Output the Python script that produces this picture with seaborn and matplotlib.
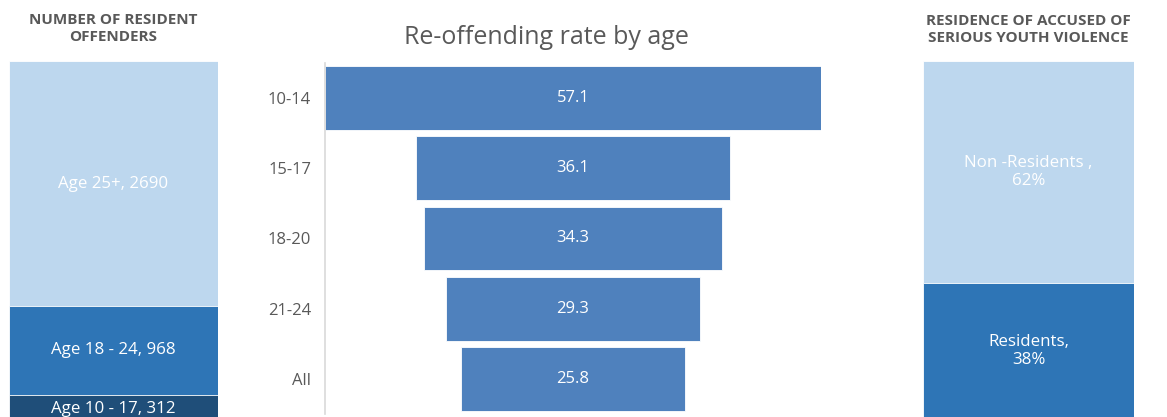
import matplotlib
matplotlib.use("Agg")
import matplotlib.pyplot as plt
import seaborn as sns
import numpy as np
import pandas as pd

# Resident offenders by age band (counts)
offender_groups = ["Age 25+", "Age 18 - 24", "Age 10 - 17"]
offender_counts = [2690, 968, 312]

# Re-offending rate by age (%)
age_bands = ["10-14", "15-17", "18-20", "21-24", "All"]
reoffend_rates = [57.1, 36.1, 34.3, 29.3, 25.8]

# Residence of accused of serious youth violence (%)
residence_groups = ["Non -Residents ,", "Residents,"]
residence_shares = [62, 38]

LIGHT = "#BDD7EE"
MID = "#2E75B6"
DARK = "#1F4E79"
FUNNEL = "#4F81BD"
GREY = "#595959"

sns.set_theme(style="white")
plt.rcParams["font.family"] = ["Open Sans", "DejaVu Sans"]

W, H = 1167, 417
fig = plt.figure(figsize=(W / 100, H / 100), dpi=100)


def px_axes(x0, y0, x1, y1):
    """Axes from pixel box (top-left origin)."""
    return fig.add_axes([x0 / W, 1 - y1 / H, (x1 - x0) / W, (y1 - y0) / H])


def stacked_column(ax, labels, values, colors, label_fmt):
    # stack from the bottom: last entry sits lowest
    order = list(range(len(values)))[::-1]
    cum = np.cumsum([values[i] for i in order])
    tops = dict(zip(order, cum))
    # draw tallest cumulative first so shorter stacks overlay it
    for i in sorted(order, key=lambda k: -tops[k]):
        df = pd.DataFrame({"g": ["x"], "v": [tops[i]]})
        sns.barplot(data=df, x="g", y="v", color=colors[i], width=1.0,
                    saturation=1, edgecolor="white", linewidth=0.6, ax=ax)
    for i in order:
        mid = tops[i] - values[i] / 2
        ax.text(0, mid, label_fmt(labels[i], values[i]), ha="center",
                va="center", color="white", fontsize=12.2, linespacing=1.1)
    ax.set_xlim(-0.5, 0.5)
    ax.set_ylim(0, cum[-1])
    ax.set_axis_off()


# Left: number of resident offenders
ax_l = px_axes(9, 61, 218, 423)
stacked_column(ax_l, offender_groups, offender_counts, [LIGHT, MID, DARK],
               lambda l, v: f"{l}, {v}")
fig.text(113 / W, 1 - 28.5 / H, "NUMBER OF RESIDENT\nOFFENDERS", ha="center",
         va="center", fontsize=11, fontweight="bold", color=GREY,
         linespacing=1.32)

# Right: residence of accused
ax_r = px_axes(923, 61, 1134, 419)
stacked_column(ax_r, residence_groups, residence_shares, [LIGHT, MID],
               lambda l, v: f"{l}\n{v}%")
fig.text(1028 / W, 1 - 29.5 / H, "RESIDENCE OF ACCUSED OF\nSERIOUS YOUTH VIOLENCE",
         ha="center", va="center", fontsize=11, fontweight="bold", color=GREY,
         linespacing=1.32)

# Middle: funnel of re-offending rates
ax_m = px_axes(325, 62.8, 821, 414.2)
top_rate = max(reoffend_rates)
offsets = [(top_rate - r) / 2 for r in reoffend_rates]
fdf = pd.DataFrame({"age": age_bands, "rate": reoffend_rates})
sns.barplot(data=fdf, x="rate", y="age", orient="h", color=FUNNEL,
            saturation=1, width=0.91, left=offsets, edgecolor="white",
            linewidth=0.6, ax=ax_m)
for i, (r, off) in enumerate(zip(reoffend_rates, offsets)):
    ax_m.text(off + r / 2, i, f"{r}", ha="center", va="center",
              color="white", fontsize=12)
ax_m.set_xlim(0, top_rate)
ax_m.set_xlabel("")
ax_m.set_ylabel("")
ax_m.set_xticks([])
ax_m.tick_params(axis="y", length=0, pad=10, labelsize=12, labelcolor=GREY)
for s in ["top", "right", "bottom"]:
    ax_m.spines[s].set_visible(False)
ax_m.spines["left"].set_color("#D9D9D9")
ax_m.spines["left"].set_linewidth(1.2)
fig.text(546 / W, 1 - 37 / H, "Re-offending rate by age", ha="center",
         va="center", fontsize=18, color=GREY)

fig.savefig("out.png", dpi=100, facecolor="white")
